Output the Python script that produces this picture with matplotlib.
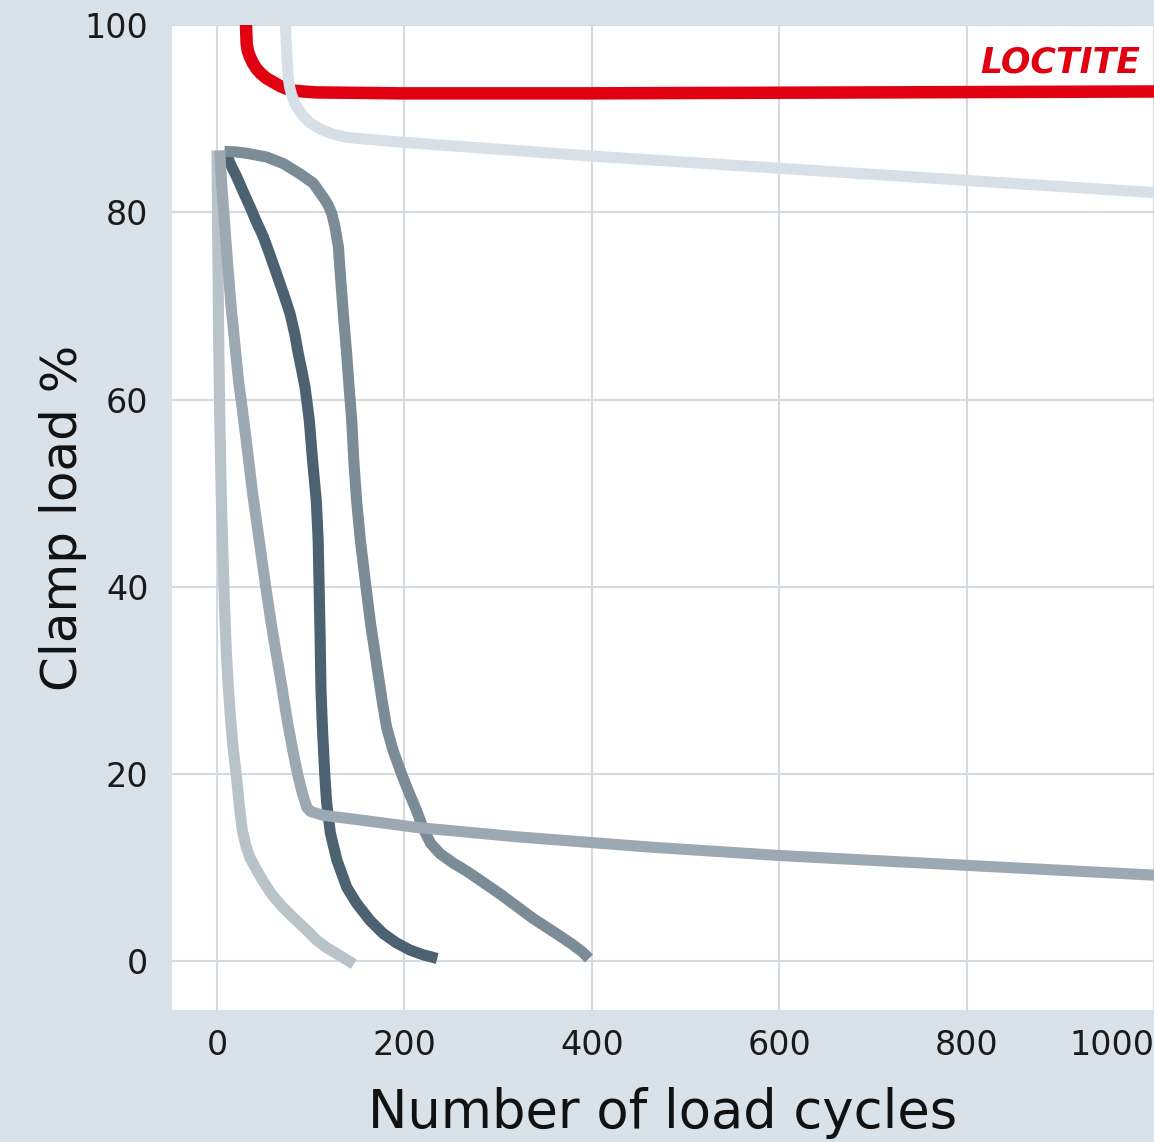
import matplotlib.pyplot as plt
import numpy as np

# colori
bg = '#d9e2e8'
grid_col = '#d3dbe1'

# LOCTITE (rosso)
loctite_x = [30.6, 31.7, 33, 35.2, 38.5, 42.4, 47, 53, 60, 67, 74, 81.5, 92, 106, 195, 400, 700, 1000]
loctite_y = [101, 98.0, 97.2, 96.6, 95.9, 95.3, 94.8, 94.3, 93.9, 93.5, 93.2, 93.0, 92.9, 92.8, 92.7, 92.7,
             92.8, 92.9]

# curva chiara in alto
top_x = [73, 73.2, 73.8, 74.4, 75.2, 76, 77.5, 79.5, 82, 86, 92, 100, 110, 122, 138, 160, 195, 400, 600,
         800, 1000]
top_y = [101, 99.5, 98.4, 97.3, 95.8, 94.4, 93.4, 92.6, 91.9, 91.1, 90.3, 89.5, 88.9, 88.4, 88.0, 87.8,
         87.5, 86.0, 84.7, 83.4, 82.1]

# curva A (la piu chiara del gruppo in basso)
a_x = [0, 1, 2, 3, 4.5, 6.5, 8, 10, 12, 14, 17, 21, 24, 27, 31, 35, 42, 49, 58, 70, 79, 88.6, 98, 107,
       118, 128, 146]
a_y = [86.6, 75, 65, 58, 50, 43, 38, 33, 29.5, 26.5, 23, 19.5, 16.5, 14.0, 12.3, 11.1, 9.8, 8.6, 7.2, 5.8,
       4.9, 4.0, 3.1, 2.2, 1.4, 0.8, -0.3]

# curva B (grigio medio, poi quasi orizzontale)
b_x = [3, 5, 8, 11, 15, 19, 23, 27, 32, 38, 45, 52, 58, 63, 69, 75, 80, 86, 91, 96, 100,
       113, 160, 213, 320, 462, 600, 800, 1000]
b_y = [86.6, 83, 79, 75, 70, 66, 62, 59, 55, 50, 45, 40, 36, 33, 29.5, 25.7, 23, 20, 18, 16.4, 16.0,
       15.6, 15.0, 14.3, 13.3, 12.2, 11.3, 10.25, 9.2]

# curva C (scura)
c_x = [8.5, 14, 21, 28, 35.2, 42, 49.4, 56, 63.7, 71, 77.9, 83, 86.8, 90.5, 94, 98.5, 102, 106, 108, 109,
       110, 111, 112.5, 115, 117, 121, 128, 138.5, 149, 163, 177, 191, 206, 220, 235]
c_y = [86.6, 85.2, 83.8, 82.2, 80.6, 79.0, 77.4, 75.6, 73.4, 71.3, 69.2, 67.0, 64.9, 63.1, 61.3, 57.8,
       53.5, 49.2, 45, 40, 35, 29, 25, 20, 17, 13.7, 10.8, 7.9, 6.2, 4.4, 3.0, 2.0, 1.2, 0.7, 0.3]

# curva D (grigio scuro medio)
d_x = [8, 20, 31.7, 53, 70.8, 88.6, 102.8, 113.4, 118.5, 122.4, 126, 129.6, 131.3, 134.8, 138.4, 141,
       143.8, 146, 149, 153, 159, 164, 170, 176, 181, 188, 197, 205, 213, 220, 228, 238, 252, 267,
       302, 337, 360, 378, 390, 397]
d_y = [86.5, 86.45, 86.3, 85.9, 85.2, 84.1, 83.1, 81.6, 80.8, 79.9, 78.4, 76.3, 73.8, 69.2, 64.9, 61.3,
       57.8, 53.5, 49.2, 45, 40, 36, 32, 28, 25, 22.5, 20, 18, 16.1, 14.2, 12.6, 11.5, 10.5, 9.6,
       7.2, 4.6, 3.1, 1.9, 1.0, 0.3]

x_ticks = [0, 200, 400, 600, 800, 1000]
y_ticks = [0, 20, 40, 60, 80, 100]

fig = plt.figure(figsize=(11.54, 11.42), dpi=100)
fig.patch.set_facecolor(bg)
ax = fig.add_axes([172 / 1154, 132 / 1142, 982 / 1154, 985 / 1142])
ax.set_facecolor('white')

lw = 8
stile = dict(solid_joinstyle='round', solid_capstyle='butt')
ax.plot(loctite_x, loctite_y, color='#e1000f', lw=9, zorder=3, **stile)
ax.plot(top_x, top_y, color='#d7e0e6', lw=lw, zorder=4, **stile)
ax.plot(a_x, a_y, color='#b8c2c9', lw=lw, zorder=5, **stile)
ax.plot(c_x, c_y, color='#4c6271', lw=lw, zorder=6, **stile)
ax.plot(d_x, d_y, color='#7b8c97', lw=lw, zorder=7, **stile)
ax.plot(b_x, b_y, color='#9ca9b2', lw=lw, zorder=8, **stile)

ax.set_xlim(-48, 1000)
ax.set_ylim(-5.2, 100)
ax.set_xticks(x_ticks)
ax.set_yticks(y_ticks)
ax.grid(True, color=grid_col, lw=1.5, zorder=0)
ax.set_axisbelow(True)
for s in ax.spines.values():
    s.set_visible(False)
ax.tick_params(length=0, labelsize=24, colors='#1a1a1a')
ax.tick_params(axis='x', pad=14)
ax.tick_params(axis='y', pad=17)
labels = ax.get_xticklabels()
labels[-1].set_horizontalalignment('right')

ax.set_xlabel('Number of load cycles', fontsize=38, color='#111111', labelpad=18)
ax.set_ylabel('Clamp load %', fontsize=36, color='#111111', labelpad=-2)

ax.text(900, 96, 'LOCTITE', color='#e1000f', fontsize=25, fontweight='bold', style='italic',
        ha='center', va='center', zorder=9)

fig.savefig('out.png', dpi=100, facecolor=bg)
